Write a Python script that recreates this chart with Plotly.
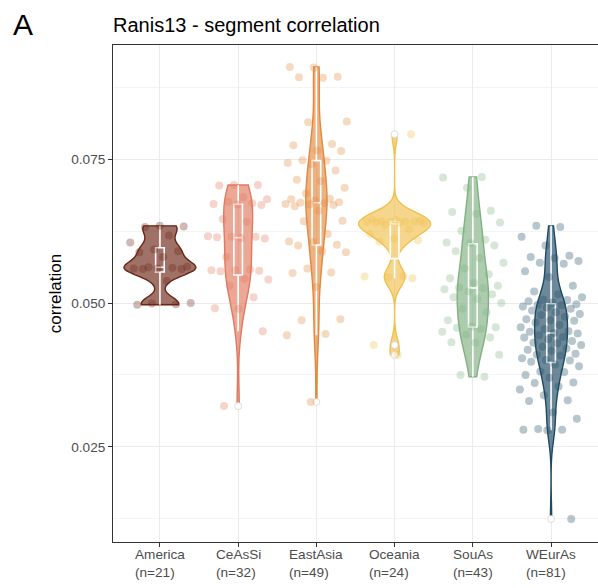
import numpy as np
import plotly.graph_objects as go

# Region labels, sample sizes and segment-correlation values per individual
regions = ["America", "CeAsSi", "EastAsia", "Oceania", "SouAs", "WEurAs"]
counts = [21, 32, 49, 24, 43, 81]

america = [0.0497, 0.0498, 0.0499, 0.0500, 0.0538, 0.0559, 0.0559, 0.0560, 0.0560,
           0.0561, 0.0562, 0.0563, 0.0580, 0.0588, 0.0590, 0.0593, 0.0605, 0.0617,
           0.0632, 0.0633, 0.0634]

ceassi = [0.0321, 0.0451, 0.0490, 0.0491, 0.0510, 0.0530, 0.0541, 0.0542, 0.0555,
          0.0556, 0.0557, 0.0557, 0.0558, 0.0580, 0.0612, 0.0613, 0.0614, 0.0615,
          0.0615, 0.0616, 0.0641, 0.0646, 0.0670, 0.0671, 0.0672, 0.0673, 0.0676,
          0.0680, 0.0684, 0.0704, 0.0705, 0.0705]

eastasia = [0.0328, 0.0444, 0.0446, 0.0470, 0.0472, 0.0528, 0.0552, 0.0553, 0.0560,
            0.0588, 0.0590, 0.0600, 0.0601, 0.0606, 0.0607, 0.0620, 0.0642, 0.0643,
            0.0660, 0.0668, 0.0670, 0.0671, 0.0672, 0.0673, 0.0674, 0.0675, 0.0678,
            0.0680, 0.0681, 0.0690, 0.0700, 0.0712, 0.0714, 0.0730, 0.0741, 0.0743,
            0.0747, 0.0748, 0.0764, 0.0765, 0.0774, 0.0776, 0.0814, 0.0815, 0.0891,
            0.0892, 0.0893, 0.0909, 0.0910]

oceania = [0.0410, 0.0427, 0.0543, 0.0545, 0.0546, 0.0547, 0.0607, 0.0609, 0.0612,
           0.0620, 0.0628, 0.0636, 0.0639, 0.0640, 0.0640, 0.0641, 0.0641, 0.0641,
           0.0642, 0.0642, 0.0643, 0.0644, 0.0645, 0.0793]

souas = [0.0372, 0.0375, 0.0410, 0.0431, 0.0432, 0.0440, 0.0445, 0.0450, 0.0455,
         0.0457, 0.0458, 0.0459, 0.0470, 0.0484, 0.0490, 0.0500, 0.0507, 0.0510,
         0.0515, 0.0520, 0.0524, 0.0526, 0.0527, 0.0530, 0.0535, 0.0543, 0.0550,
         0.0560, 0.0570, 0.0578, 0.0590, 0.0600, 0.0604, 0.0605, 0.0610, 0.0625,
         0.0640, 0.0655, 0.0658, 0.0660, 0.0700, 0.0718, 0.0719]

weuras = [0.0125, 0.0279, 0.0280, 0.0280, 0.0281, 0.0299, 0.0310, 0.0330, 0.0331,
          0.0340, 0.0350, 0.0355, 0.0361, 0.0362, 0.0370, 0.0375, 0.0380, 0.0381,
          0.0390, 0.0393, 0.0398, 0.0400, 0.0401, 0.0404, 0.0409, 0.0410, 0.0412,
          0.0417, 0.0419, 0.0421, 0.0424, 0.0427, 0.0430, 0.0431, 0.0434, 0.0437,
          0.0440, 0.0441, 0.0444, 0.0447, 0.0448, 0.0450, 0.0451, 0.0455, 0.0458,
          0.0462, 0.0466, 0.0469, 0.0470, 0.0472, 0.0476, 0.0479, 0.0481, 0.0484,
          0.0487, 0.0490, 0.0492, 0.0494, 0.0496, 0.0497, 0.0498, 0.0501, 0.0503,
          0.0505, 0.0506, 0.0510, 0.0515, 0.0520, 0.0530, 0.0545, 0.0555, 0.0568,
          0.0570, 0.0573, 0.0578, 0.0580, 0.0582, 0.0600, 0.0615, 0.0632, 0.0634]

series = [america, ceassi, eastasia, oceania, souas, weuras]

y_ticks = [0.025, 0.050, 0.075]
y_minor = [0.0125, 0.0375, 0.0625, 0.0875]

# Styling
colors = ["#6b2516", "#e07a5f", "#e3883e", "#f0c04e", "#81b083", "#1e4a63"]
violin_widths = [0.92, 0.37, 0.27, 0.92, 0.40, 0.42]
FONT = "Liberation Sans, Arial, sans-serif"


def rgba(hex_color, a):
    h = hex_color.lstrip("#")
    r, g, b = int(h[0:2], 16), int(h[2:4], 16), int(h[4:6], 16)
    return f"rgba({r},{g},{b},{a})"


def nrd0(v):
    v = np.asarray(v, dtype=float)
    sd = np.std(v, ddof=1)
    q75, q25 = np.percentile(v, [75, 25])
    lo = min(sd, (q75 - q25) / 1.34)
    if lo <= 0:
        lo = sd
    return 0.9 * lo * len(v) ** -0.2


fig = go.Figure()

for i, (vals, col) in enumerate(zip(series, colors)):
    n = len(vals)
    fig.add_trace(go.Violin(
        x=[i] * n, y=vals, spanmode="hard", scalemode="width",
        width=violin_widths[i], bandwidth=nrd0(vals),
        fillcolor=rgba(col, 0.65), line=dict(color=col, width=1.4),
        points=False, box_visible=False, meanline_visible=False,
        hoverinfo="skip", showlegend=False,
    ))

# jittered sample points (horizontal spread only)
for i, (vals, col) in enumerate(zip(series, colors)):
    n = len(vals)
    offs = ((np.arange(n) * 0.6180339887 + 0.137 * (i + 1)) % 1.0 - 0.5) * 0.8
    fig.add_trace(go.Scatter(
        x=i + offs, y=vals, mode="markers",
        marker=dict(color=rgba(col, 0.32), size=8, line=dict(width=0)),
        hoverinfo="skip", showlegend=False,
    ))

# narrow white boxplots with white outliers
for i, vals in enumerate(series):
    n = len(vals)
    fig.add_trace(go.Box(
        x=[i] * n, y=vals, width=0.11, whiskerwidth=0,
        boxpoints="outliers", fillcolor="rgba(0,0,0,0)",
        line=dict(color="white", width=1.6),
        marker=dict(color="white", size=7, line=dict(color="#c8c8c8", width=0.6)),
        hoverinfo="skip", showlegend=False,
    ))

# two-line category labels under the axis
for i, (name, n) in enumerate(zip(regions, counts)):
    fig.add_annotation(
        x=i, y=0, xref="x", yref="paper", xanchor="center", yanchor="top",
        text=f"{name}<br>(n={n})", align="left", showarrow=False, yshift=-3,
        font=dict(family=FONT, size=13.6, color="#4d4d4d"),
    )

fig.add_annotation(
    x=0, y=1, xref="paper", yref="paper", xanchor="left", yanchor="middle",
    xshift=-102, yshift=21, text="A", showarrow=False,
    font=dict(family=FONT, size=30, color="black"),
)

fig.update_layout(
    width=598, height=588,
    margin=dict(l=113, r=0, t=45, b=46),
    paper_bgcolor="white", plot_bgcolor="white",
    violinmode="overlay", boxmode="overlay",
    title=dict(text="Ranis13 - segment correlation", x=0, xref="paper",
               xanchor="left", y=(588 - 25) / 588, yref="container",
               yanchor="middle", font=dict(family=FONT, size=20, color="black")),
    xaxis=dict(range=[-0.6, 5.6], tickvals=list(range(len(regions))),
               ticktext=[""] * len(regions), ticks="outside", ticklen=4,
               tickcolor="#333333", showgrid=True, gridcolor="#ebebeb",
               zeroline=False, showline=True, mirror=True,
               linecolor="#333333", linewidth=1),
    yaxis=dict(range=[0.0085, 0.0948], tickvals=y_ticks, tickformat=".3f",
               ticks="outside", ticklen=4, tickcolor="#333333",
               tickfont=dict(family=FONT, size=13.6, color="#4d4d4d"),
               showgrid=True, gridcolor="#ebebeb", zeroline=False,
               showline=True, mirror=True, linecolor="#333333", linewidth=1,
               minor=dict(tickvals=y_minor, showgrid=True, gridcolor="#f4f4f4",
                          ticks=""),
               title=dict(text="correlation", standoff=5,
                          font=dict(family=FONT, size=17, color="black"))),
)

fig.write_html("out.html")
